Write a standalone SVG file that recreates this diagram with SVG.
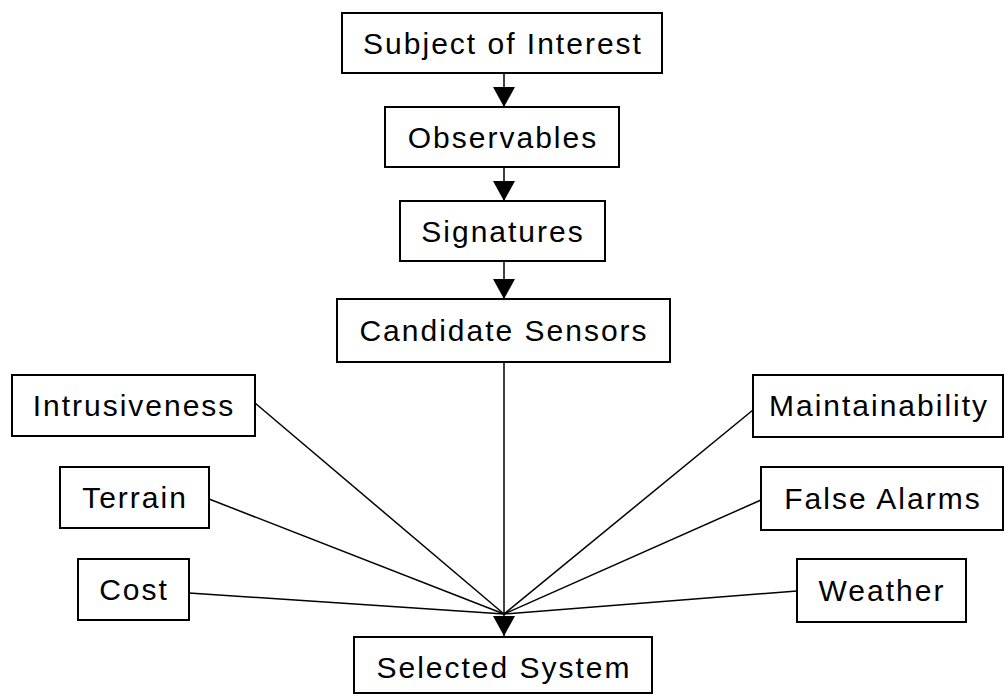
<svg xmlns="http://www.w3.org/2000/svg" width="1005" height="696" viewBox="0 0 1005 696">
<style>
.box{fill:#fff;stroke:#000;stroke-width:2}
.lbl{font-family:"Liberation Sans",Arial,sans-serif;font-size:30px;letter-spacing:2px;fill:#000;text-anchor:middle}
.ln{stroke:#000;stroke-width:1.5;fill:none}
</style>
<defs>
<marker id="ah" viewBox="0 0 20 22" refX="20" refY="11" markerWidth="20" markerHeight="22" markerUnits="userSpaceOnUse" orient="auto">
<path d="M0,0 L20,11 L0,22 Z" fill="#000"/>
</marker>
</defs>
<rect width="1005" height="696" fill="#fff"/>
<g id="connectors">
<line class="ln" x1="504" y1="73" x2="504" y2="107" marker-end="url(#ah)"/>
<line class="ln" x1="504" y1="167" x2="504" y2="201" marker-end="url(#ah)"/>
<line class="ln" x1="504" y1="261" x2="504" y2="299" marker-end="url(#ah)"/>
<line class="ln" x1="504" y1="362" x2="504" y2="636" marker-end="url(#ah)"/>
<line class="ln" x1="255" y1="403" x2="504" y2="614"/>
<line class="ln" x1="209" y1="499" x2="504" y2="614"/>
<line class="ln" x1="189" y1="593" x2="504" y2="614"/>
<line class="ln" x1="753" y1="410" x2="504" y2="614"/>
<line class="ln" x1="761" y1="500" x2="504" y2="614"/>
<line class="ln" x1="797" y1="591" x2="504" y2="614"/>
</g>
<g id="subject"><rect class="box" x="342" y="13" width="320" height="60"/><text class="lbl" x="503" y="54">Subject of Interest</text></g>
<g id="observables"><rect class="box" x="385" y="107" width="234" height="60"/><text class="lbl" x="503" y="148">Observables</text></g>
<g id="signatures"><rect class="box" x="400" y="201" width="205" height="60"/><text class="lbl" x="503" y="242">Signatures</text></g>
<g id="candidate"><rect class="box" x="337" y="299" width="333" height="63"/><text class="lbl" x="504" y="341">Candidate Sensors</text></g>
<g id="intrusiveness"><rect class="box" x="12" y="375" width="243" height="61"/><text class="lbl" x="134" y="416">Intrusiveness</text></g>
<g id="terrain"><rect class="box" x="60" y="467" width="149" height="61"/><text class="lbl" x="135" y="508">Terrain</text></g>
<g id="cost"><rect class="box" x="78" y="559" width="111" height="61"/><text class="lbl" x="134" y="600">Cost</text></g>
<g id="maintainability"><rect class="box" x="753" y="375" width="250" height="62"/><text class="lbl" x="879" y="416">Maintainability</text></g>
<g id="falsealarms"><rect class="box" x="761" y="467" width="242" height="63"/><text class="lbl" x="883" y="509">False Alarms</text></g>
<g id="weather"><rect class="box" x="797" y="559" width="169" height="63"/><text class="lbl" x="882" y="601">Weather</text></g>
<g id="selected"><rect class="box" x="354" y="637" width="298" height="56"/><text class="lbl" x="504" y="678">Selected System</text></g>
</svg>
